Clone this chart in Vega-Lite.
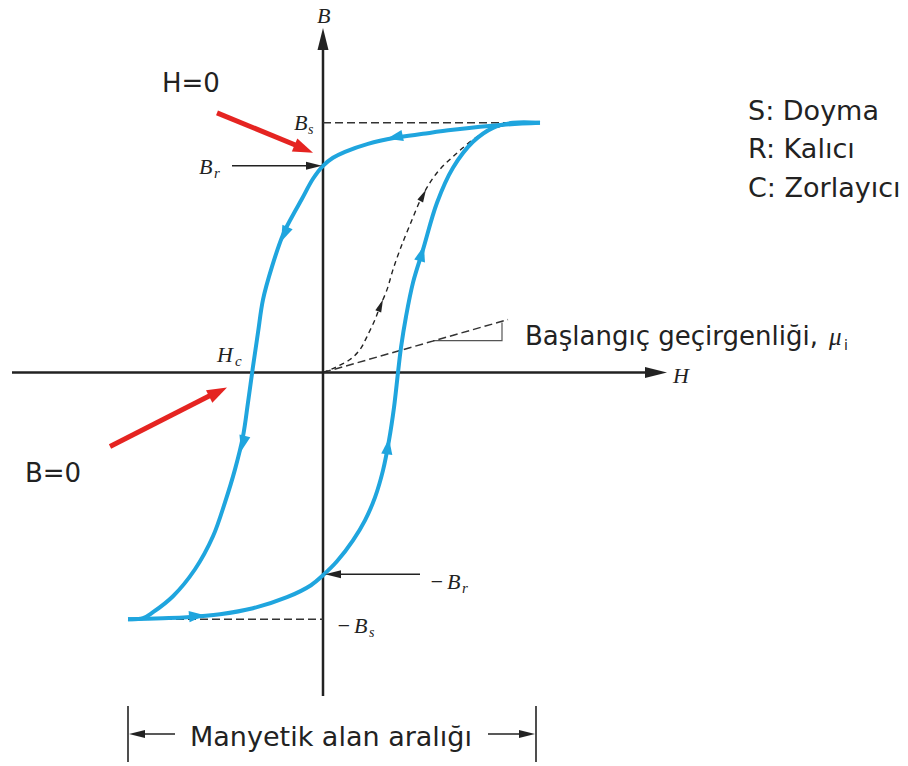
{
  "$schema": "https://vega.github.io/schema/vega-lite/v6.json",
  "width": 908,
  "height": 766,
  "autosize": {"type": "fit", "contains": "padding"},
  "padding": 0,
  "background": "white",
  "config": {"view": {"stroke": null}},
  "datasets": {
    "lines": [
      {"id": "axisB", "o": 1, "H": 0, "B": 333, "s": "axis"},
      {"id": "axisB", "o": 2, "H": 0, "B": -324, "s": "axis"},
      {"id": "axisH", "o": 1, "H": -311, "B": 0, "s": "axis"},
      {"id": "axisH", "o": 2, "H": 332, "B": 0, "s": "axis"},
      {"id": "Br", "o": 1, "H": -91, "B": 207, "s": "thin"},
      {"id": "Br", "o": 2, "H": -11, "B": 207, "s": "thin"},
      {"id": "mBr", "o": 1, "H": 97, "B": -202, "s": "thin"},
      {"id": "mBr", "o": 2, "H": 12, "B": -202, "s": "thin"},
      {"id": "brL", "o": 1, "H": -195, "B": -334, "s": "thin"},
      {"id": "brL", "o": 2, "H": -195, "B": -390, "s": "thin"},
      {"id": "brR", "o": 1, "H": 213, "B": -334, "s": "thin"},
      {"id": "brR", "o": 2, "H": 213, "B": -390, "s": "thin"},
      {"id": "brLa", "o": 1, "H": -148, "B": -362, "s": "thin"},
      {"id": "brLa", "o": 2, "H": -186, "B": -362, "s": "thin"},
      {"id": "brRa", "o": 1, "H": 165, "B": -362, "s": "thin"},
      {"id": "brRa", "o": 2, "H": 202, "B": -362, "s": "thin"},
      {"id": "tri", "o": 1, "H": 110, "B": 32, "s": "tri"},
      {"id": "tri", "o": 2, "H": 179, "B": 32, "s": "tri"},
      {"id": "tri", "o": 3, "H": 179, "B": 50, "s": "tri"},
      {"id": "Bs", "o": 1, "H": 0, "B": 250, "s": "dash"},
      {"id": "Bs", "o": 2, "H": 200, "B": 250, "s": "dash"},
      {"id": "mBs", "o": 1, "H": -195, "B": -247, "s": "dash"},
      {"id": "mBs", "o": 2, "H": 0, "B": -247, "s": "dash"},
      {"id": "mu", "o": 1, "H": 0, "B": 0, "s": "dash"},
      {"id": "mu", "o": 2, "H": 185, "B": 53, "s": "dash"},
      {"id": "init", "o": 1, "H": 0, "B": 0, "s": "dashs"},
      {"id": "init", "o": 2, "H": 12, "B": 5, "s": "dashs"},
      {"id": "init", "o": 3, "H": 27, "B": 13, "s": "dashs"},
      {"id": "init", "o": 4, "H": 37, "B": 23, "s": "dashs"},
      {"id": "init", "o": 5, "H": 44, "B": 36, "s": "dashs"},
      {"id": "init", "o": 6, "H": 52, "B": 53, "s": "dashs"},
      {"id": "init", "o": 7, "H": 57, "B": 66, "s": "dashs"},
      {"id": "init", "o": 8, "H": 64, "B": 83, "s": "dashs"},
      {"id": "init", "o": 9, "H": 70, "B": 103, "s": "dashs"},
      {"id": "init", "o": 10, "H": 77, "B": 123, "s": "dashs"},
      {"id": "init", "o": 11, "H": 87, "B": 148, "s": "dashs"},
      {"id": "init", "o": 12, "H": 100, "B": 178, "s": "dashs"},
      {"id": "init", "o": 13, "H": 114, "B": 200, "s": "dashs"},
      {"id": "init", "o": 14, "H": 132, "B": 218, "s": "dashs"},
      {"id": "init", "o": 15, "H": 154, "B": 236, "s": "dashs"},
      {"id": "init", "o": 16, "H": 172, "B": 245, "s": "dashs"},
      {"id": "init", "o": 17, "H": 192, "B": 249, "s": "dashs"},
      {"id": "up", "o": 1, "H": 217, "B": 250, "s": "loop"},
      {"id": "up", "o": 2, "H": 180, "B": 248, "s": "loop"},
      {"id": "up", "o": 3, "H": 130, "B": 243, "s": "loop"},
      {"id": "up", "o": 4, "H": 100, "B": 239, "s": "loop"},
      {"id": "up", "o": 5, "H": 72, "B": 235, "s": "loop"},
      {"id": "up", "o": 6, "H": 45, "B": 229, "s": "loop"},
      {"id": "up", "o": 7, "H": 22, "B": 221, "s": "loop"},
      {"id": "up", "o": 8, "H": 10, "B": 215, "s": "loop"},
      {"id": "up", "o": 9, "H": 0, "B": 207, "s": "loop"},
      {"id": "up", "o": 10, "H": -10, "B": 194, "s": "loop"},
      {"id": "up", "o": 11, "H": -21, "B": 174, "s": "loop"},
      {"id": "up", "o": 12, "H": -31, "B": 156, "s": "loop"},
      {"id": "up", "o": 13, "H": -40, "B": 138, "s": "loop"},
      {"id": "up", "o": 14, "H": -51, "B": 106, "s": "loop"},
      {"id": "up", "o": 15, "H": -60, "B": 73, "s": "loop"},
      {"id": "up", "o": 16, "H": -65, "B": 40, "s": "loop"},
      {"id": "up", "o": 17, "H": -70, "B": 6, "s": "loop"},
      {"id": "up", "o": 18, "H": -75, "B": -30, "s": "loop"},
      {"id": "up", "o": 19, "H": -80, "B": -64, "s": "loop"},
      {"id": "up", "o": 20, "H": -88, "B": -97, "s": "loop"},
      {"id": "up", "o": 21, "H": -98, "B": -130, "s": "loop"},
      {"id": "up", "o": 22, "H": -110, "B": -164, "s": "loop"},
      {"id": "up", "o": 23, "H": -128, "B": -197, "s": "loop"},
      {"id": "up", "o": 24, "H": -150, "B": -224, "s": "loop"},
      {"id": "up", "o": 25, "H": -170, "B": -240, "s": "loop"},
      {"id": "up", "o": 26, "H": -180, "B": -246, "s": "loop"},
      {"id": "up", "o": 27, "H": -195, "B": -247, "s": "loop"},
      {"id": "lo", "o": 1, "H": -195, "B": -247, "s": "loop"},
      {"id": "lo", "o": 2, "H": -160, "B": -246, "s": "loop"},
      {"id": "lo", "o": 3, "H": -136, "B": -245, "s": "loop"},
      {"id": "lo", "o": 4, "H": -103, "B": -242, "s": "loop"},
      {"id": "lo", "o": 5, "H": -70, "B": -236, "s": "loop"},
      {"id": "lo", "o": 6, "H": -36, "B": -225, "s": "loop"},
      {"id": "lo", "o": 7, "H": -12, "B": -213, "s": "loop"},
      {"id": "lo", "o": 8, "H": 0, "B": -203, "s": "loop"},
      {"id": "lo", "o": 9, "H": 14, "B": -189, "s": "loop"},
      {"id": "lo", "o": 10, "H": 30, "B": -168, "s": "loop"},
      {"id": "lo", "o": 11, "H": 42, "B": -148, "s": "loop"},
      {"id": "lo", "o": 12, "H": 52, "B": -125, "s": "loop"},
      {"id": "lo", "o": 13, "H": 60, "B": -98, "s": "loop"},
      {"id": "lo", "o": 14, "H": 66, "B": -68, "s": "loop"},
      {"id": "lo", "o": 15, "H": 71, "B": -35, "s": "loop"},
      {"id": "lo", "o": 16, "H": 75, "B": 0, "s": "loop"},
      {"id": "lo", "o": 17, "H": 78, "B": 25, "s": "loop"},
      {"id": "lo", "o": 18, "H": 83, "B": 56, "s": "loop"},
      {"id": "lo", "o": 19, "H": 90, "B": 90, "s": "loop"},
      {"id": "lo", "o": 20, "H": 100, "B": 123, "s": "loop"},
      {"id": "lo", "o": 21, "H": 114, "B": 170, "s": "loop"},
      {"id": "lo", "o": 22, "H": 130, "B": 205, "s": "loop"},
      {"id": "lo", "o": 23, "H": 150, "B": 231, "s": "loop"},
      {"id": "lo", "o": 24, "H": 170, "B": 245, "s": "loop"},
      {"id": "lo", "o": 25, "H": 190, "B": 250, "s": "loop"},
      {"id": "lo", "o": 26, "H": 217, "B": 250, "s": "loop"},
      {"id": "redH", "o": 1, "H": -106, "B": 260, "s": "red"},
      {"id": "redH", "o": 2, "H": -21, "B": 225, "s": "red"},
      {"id": "redB", "o": 1, "H": -213, "B": -74, "s": "red"},
      {"id": "redB", "o": 2, "H": -107, "B": -20, "s": "red"}
    ],
    "narrowHeads": [
      {"H": 0, "B": 345, "a": 0, "sz": 484},
      {"H": 344, "B": 0, "a": 90, "sz": 484},
      {"H": -1, "B": 207, "a": 90, "sz": 256},
      {"H": 2, "B": -202, "a": 270, "sz": 256},
      {"H": -194, "B": -362, "a": 270, "sz": 256},
      {"H": 212, "B": -362, "a": 90, "sz": 256},
      {"H": 60, "B": 73, "a": 22, "sz": 160},
      {"H": 103, "B": 183, "a": 27, "sz": 160}
    ],
    "wideHeads": [
      {"H": 64, "B": 234, "a": 258, "sz": 256, "c": "#1fa5de"},
      {"H": -42, "B": 131, "a": 204, "sz": 256, "c": "#1fa5de"},
      {"H": -82, "B": -79, "a": 194, "sz": 256, "c": "#1fa5de"},
      {"H": -118, "B": -243, "a": 85, "sz": 256, "c": "#1fa5de"},
      {"H": 66, "B": -66, "a": 8, "sz": 256, "c": "#1fa5de"},
      {"H": 101, "B": 127, "a": 16, "sz": 256, "c": "#1fa5de"},
      {"H": -10, "B": 220, "a": 113, "sz": 400, "c": "#e52421"},
      {"H": -96, "B": -15, "a": 63, "sz": 400, "c": "#e52421"}
    ],
    "sansText": [
      {"t": "H=0", "H": -161, "B": 281, "fs": 26},
      {"t": "B=0", "H": -298, "B": -110, "fs": 26},
      {"t": "S: Doyma", "H": 425, "B": 253, "fs": 27},
      {"t": "R: Kalıcı", "H": 425, "B": 215, "fs": 27},
      {"t": "C: Zorlayıcı", "H": 425, "B": 176, "fs": 27},
      {"t": "Başlangıç geçirgenliği,", "H": 202, "B": 28, "fs": 26},
      {"t": "Manyetik alan aralığı", "H": -133, "B": -374, "fs": 27},
      {"t": "i", "H": 521, "B": 23, "fs": 14}
    ],
    "mathText": [
      {"t": "B", "H": -6, "B": 350, "fs": 22},
      {"t": "H", "H": 350, "B": -10, "fs": 22},
      {"t": "B", "H": -29, "B": 243, "fs": 22},
      {"t": "s", "H": -15, "B": 239, "fs": 14},
      {"t": "B", "H": -124, "B": 199, "fs": 22},
      {"t": "r", "H": -109, "B": 195, "fs": 15},
      {"t": "H", "H": -106, "B": 11, "fs": 22},
      {"t": "c", "H": -88, "B": 7, "fs": 15},
      {"t": "−", "H": 106, "B": -217, "fs": 22},
      {"t": "B", "H": 124, "B": -217, "fs": 22},
      {"t": "r", "H": 139, "B": -221, "fs": 15},
      {"t": "−", "H": 13, "B": -261, "fs": 22},
      {"t": "B", "H": 31, "B": -261, "fs": 22},
      {"t": "s", "H": 46, "B": -265, "fs": 14},
      {"t": "μ", "H": 506, "B": 28, "fs": 25}
    ]
  },
  "encoding": {
    "x": {"field": "H", "type": "quantitative", "scale": {"domain": [-323, 585], "nice": false, "zero": false}, "axis": null},
    "y": {"field": "B", "type": "quantitative", "scale": {"domain": [-393, 373], "nice": false, "zero": false}, "axis": null}
  },
  "layer": [
    {
      "data": {"name": "lines"},
      "transform": [{"filter": "datum.s === 'axis'"}],
      "mark": {"type": "line", "color": "#222222", "strokeWidth": 2.5},
      "encoding": {"detail": {"field": "id", "type": "nominal"}, "order": {"field": "o", "type": "quantitative"}}
    },
    {
      "data": {"name": "lines"},
      "transform": [{"filter": "datum.s === 'thin'"}],
      "mark": {"type": "line", "color": "#222222", "strokeWidth": 1.6},
      "encoding": {"detail": {"field": "id", "type": "nominal"}, "order": {"field": "o", "type": "quantitative"}}
    },
    {
      "data": {"name": "lines"},
      "transform": [{"filter": "datum.s === 'tri'"}],
      "mark": {"type": "line", "color": "#555555", "strokeWidth": 1.2},
      "encoding": {"detail": {"field": "id", "type": "nominal"}, "order": {"field": "o", "type": "quantitative"}}
    },
    {
      "data": {"name": "lines"},
      "transform": [{"filter": "datum.s === 'dash'"}],
      "mark": {"type": "line", "color": "#333333", "strokeWidth": 1.5, "strokeDash": [8, 4]},
      "encoding": {"detail": {"field": "id", "type": "nominal"}, "order": {"field": "o", "type": "quantitative"}}
    },
    {
      "data": {"name": "lines"},
      "transform": [{"filter": "datum.s === 'dashs'"}],
      "mark": {"type": "line", "color": "#222222", "strokeWidth": 1.4, "strokeDash": [5, 4], "interpolate": "catmull-rom"},
      "encoding": {"detail": {"field": "id", "type": "nominal"}, "order": {"field": "o", "type": "quantitative"}}
    },
    {
      "data": {"name": "lines"},
      "transform": [{"filter": "datum.s === 'loop'"}],
      "mark": {"type": "line", "color": "#1fa5de", "strokeWidth": 4, "interpolate": "catmull-rom"},
      "encoding": {"detail": {"field": "id", "type": "nominal"}, "order": {"field": "o", "type": "quantitative"}}
    },
    {
      "data": {"name": "lines"},
      "transform": [{"filter": "datum.s === 'red'"}],
      "mark": {"type": "line", "color": "#e52421", "strokeWidth": 5},
      "encoding": {"detail": {"field": "id", "type": "nominal"}, "order": {"field": "o", "type": "quantitative"}}
    },
    {
      "data": {"name": "narrowHeads"},
      "mark": {"type": "point", "shape": "M0,0L0.5,2L-0.5,2Z", "filled": true, "color": "#222222", "opacity": 1, "strokeWidth": 0},
      "encoding": {
        "angle": {"field": "a", "type": "quantitative", "scale": null},
        "size": {"field": "sz", "type": "quantitative", "scale": null}
      }
    },
    {
      "data": {"name": "wideHeads"},
      "mark": {"type": "point", "shape": "M0,0L0.7,2L-0.7,2Z", "filled": true, "opacity": 1, "strokeWidth": 0},
      "encoding": {
        "angle": {"field": "a", "type": "quantitative", "scale": null},
        "size": {"field": "sz", "type": "quantitative", "scale": null},
        "color": {"field": "c", "type": "nominal", "scale": null}
      }
    },
    {
      "data": {"name": "sansText"},
      "mark": {"type": "text", "font": "DejaVu Sans", "align": "left", "baseline": "alphabetic", "color": "#222222"},
      "encoding": {
        "text": {"field": "t"},
        "size": {"field": "fs", "type": "quantitative", "scale": null}
      }
    },
    {
      "data": {"name": "mathText"},
      "mark": {"type": "text", "font": "Liberation Serif", "fontStyle": "italic", "align": "left", "baseline": "alphabetic", "color": "#222222"},
      "encoding": {
        "text": {"field": "t"},
        "size": {"field": "fs", "type": "quantitative", "scale": null}
      }
    }
  ]
}
